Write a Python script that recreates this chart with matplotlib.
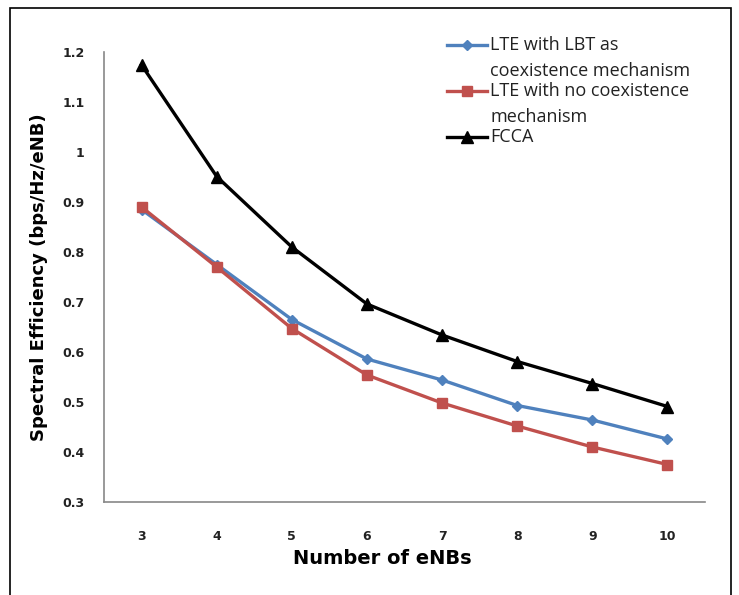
import matplotlib.pyplot as plt
from matplotlib.patches import Rectangle
from matplotlib.lines import Line2D

enbs = [3, 4, 5, 6, 7, 8, 9, 10]
lte_lbt = [0.885, 0.775, 0.665, 0.586, 0.544, 0.493, 0.464, 0.426]
lte_none = [0.890, 0.770, 0.647, 0.554, 0.498, 0.452, 0.410, 0.375]
fcca = [1.174, 0.951, 0.810, 0.696, 0.634, 0.581, 0.537, 0.491]
yticks = [0.3, 0.4, 0.5, 0.6, 0.7, 0.8, 0.9, 1.0, 1.1, 1.2]
ytick_labels = ['0.3', '0.4', '0.5', '0.6', '0.7', '0.8', '0.9', '1', '1.1', '1.2']
legend_lines = [['LTE with LBT as', 'coexistence mechanism'],
                ['LTE with no coexistence', 'mechanism'],
                ['FCCA']]

W, H = 739, 595
fig = plt.figure(figsize=(W / 100, H / 100), dpi=100)
ax = fig.add_axes([104 / W, 1 - 502 / H, 601 / W, 450 / H])

# frame around the whole picture
fig.patches.append(Rectangle((10 / W, -0.01), 721 / W, 1 - 8 / H + 0.01,
                             transform=fig.transFigure, fill=False,
                             edgecolor='black', linewidth=1.2))

styles = [dict(color='#4F81BD', marker='D', markersize=5.5),
          dict(color='#C0504D', marker='s', markersize=7),
          dict(color='black', marker='^', markersize=8)]

for vals, st in zip([lte_lbt, lte_none, fcca], styles):
    ax.plot(enbs, vals, linewidth=2.4, **st)

ax.set_xlim(2.5, 10.5)
ax.set_ylim(0.3, 1.2)
ax.set_xticks(enbs)
ax.set_xticklabels([str(e) for e in enbs], fontsize=9, fontweight='bold', color='#222222')
ax.set_yticks(yticks)
ax.set_yticklabels(ytick_labels, fontsize=9, fontweight='bold', color='#222222')
ax.tick_params(axis='both', length=0)
ax.tick_params(axis='x', pad=20)
ax.tick_params(axis='y', pad=14)

for side in ['top', 'right']:
    ax.spines[side].set_visible(False)
for side in ['left', 'bottom']:
    ax.spines[side].set_color('#888888')
    ax.spines[side].set_linewidth(1.2)

ax.set_xlabel('Number of eNBs', fontsize=14, fontweight='bold')
ax.xaxis.set_label_coords((382 - 104) / 601, -0.105)
ax.set_ylabel('Spectral Efficiency (bps/Hz/eNB)', fontsize=13, fontweight='bold', labelpad=10)

# legend drawn by hand: handle aligned with the first line of each label
entry_y = [45, 91, 137]
for lines, st, y0 in zip(legend_lines, styles, entry_y):
    fig.add_artist(Line2D([447 / W, 467 / W, 487 / W], [1 - y0 / H] * 3, linewidth=2.4,
                          markevery=[1], transform=fig.transFigure, **st))
    for k, txt in enumerate(lines):
        fig.text(490 / W, 1 - (y0 + 26.5 * k) / H, txt, family='Open Sans',
                 fontsize=13, va='center', ha='left', color='#222222')

plt.savefig('out.png', dpi=100)
